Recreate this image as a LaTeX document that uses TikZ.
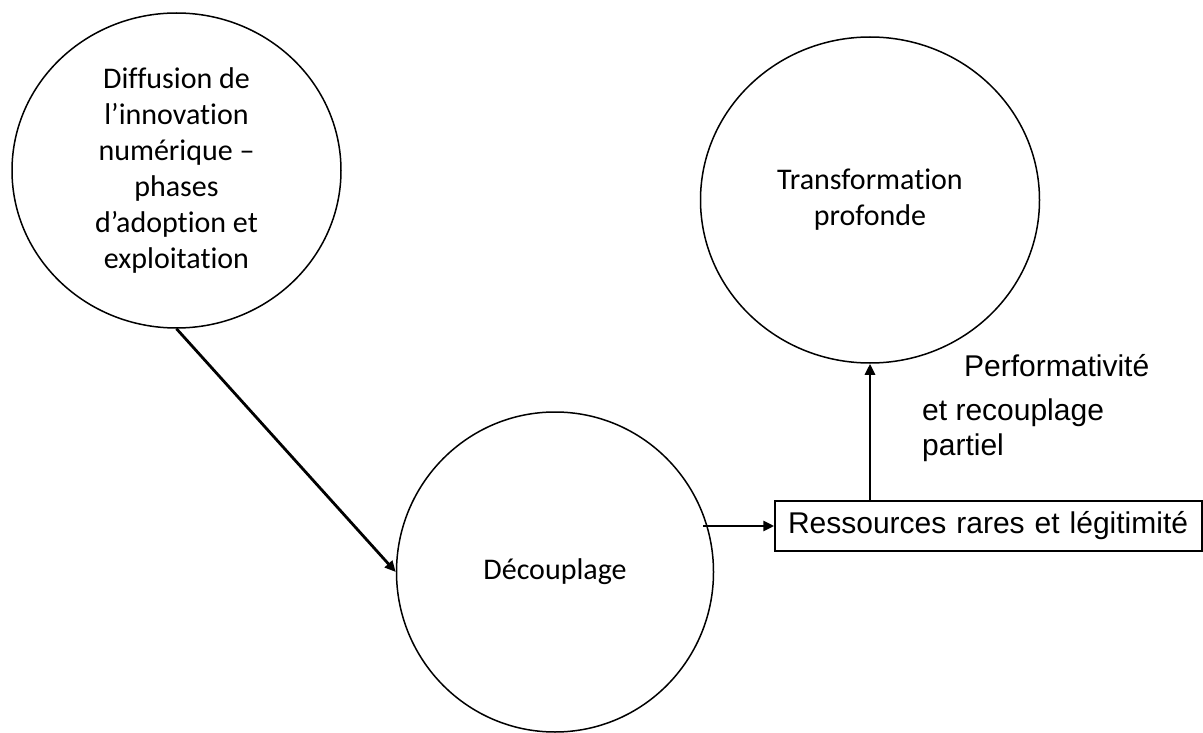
\documentclass[tikz,border=0pt]{standalone}
\usepackage{fontspec}
\setmainfont{Carlito}[Ligatures={NoCommon}]
\newfontfamily\arialf{Liberation Sans}
\usetikzlibrary{shapes.geometric,arrows.meta,calc}
\tikzset{
  bubble/.style={ellipse, draw=black, line width=1.5pt, inner sep=0pt, align=center,
    font=\fontsize{30}{36}\selectfont},
  arr/.style={line width=2.8pt, -{Triangle[length=11pt,width=10pt]}},
  rbox/.style={draw=black, line width=1.5pt, inner xsep=13pt, inner ysep=0pt,
    text width=401pt, minimum height=50pt, align=left,
    font=\arialf\fontsize{30}{36}\selectfont},
  lab/.style={anchor=base west, inner sep=0pt, font=\arialf\fontsize{30}{36}\selectfont}
}
\begin{document}
\begin{tikzpicture}[x=1pt,y=-1pt]
\useasboundingbox[fill=white] (0,0) rectangle (1203,733);
\node[bubble, minimum width=329pt, minimum height=315pt] (c1) at (176.5,170.5)
  {Diffusion de\\l’innovation\\numérique –\\phases\\d’adoption et\\exploitation};
\node[bubble, minimum width=317pt, minimum height=320pt] (c2) at (555,572) {Découplage};
\node[bubble, minimum width=339pt, minimum height=326pt] (c3) at (870,200)
  {Transformation\\profonde};
\node[rbox] (box) at (988.5,526) {Ressources rares et légitimité};
\node[lab] (l1) at (964,376) {Performativité};
\node[lab] (l2) at (922,420) {et recouplage};
\node[lab] (l3) at (922,455) {partiel};
\coordinate (hs) at ($(c2.east |- box.west)+(-11,0)$);
\draw[arr] (c1.south) -- (c2.west);
\draw[arr] (hs) -- (box.west);
\draw[arr] (box.north -| c3.south) -- (c3.south);
\end{tikzpicture}
\end{document}
